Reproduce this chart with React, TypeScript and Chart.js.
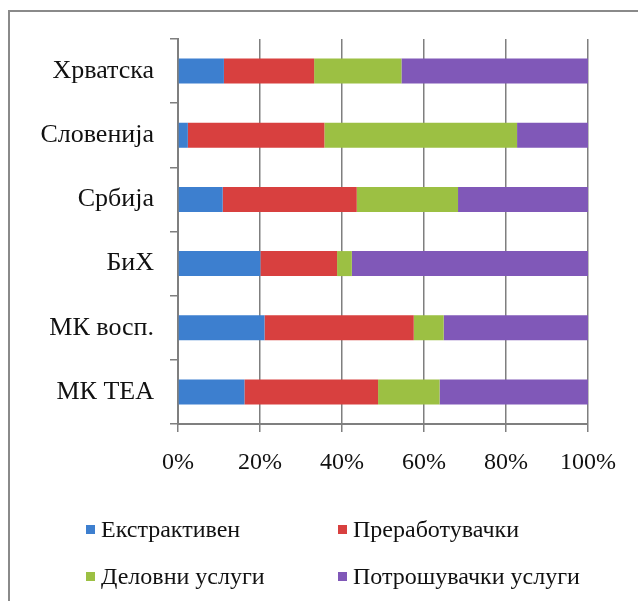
import React, { useEffect, useRef } from "react";
import { Chart, registerables } from "chart.js";

Chart.register(...registerables);

const categories = ["Хрватска", "Словенија", "Србија", "БиХ", "МК восп.", "МК ТЕА"];
const extractive = [11.2, 2.4, 10.9, 20.1, 21.1, 16.2];
const manufacturing = [22.0, 33.3, 32.7, 18.7, 36.4, 32.6];
const business = [21.3, 47.0, 24.7, 3.6, 7.3, 15.0];
const consumer = [45.5, 17.3, 31.7, 57.6, 35.2, 36.2];
const seriesNames = ["Екстрактивен", "Преработувачки", "Деловни услуги", "Потрошувачки услуги"];
const seriesColors = ["#3d7fcf", "#d8403f", "#9cc043", "#8058b8"];
const xTicks = [0, 20, 40, 60, 80, 100];

const FONT = "'Liberation Serif', 'Times New Roman', serif";

const legendPlugin = {
  id: "customLegend",
  afterDraw(chart: any) {
    const ctx = chart.ctx;
    ctx.save();
    ctx.font = `24px ${FONT}`;
    ctx.textBaseline = "middle";
    ctx.textAlign = "left";
    const cols = [86, 338];
    const rows = [530, 577];
    chart.data.datasets.forEach((ds: any, i: number) => {
      const x = cols[i % 2];
      const y = rows[Math.floor(i / 2)];
      ctx.fillStyle = ds.backgroundColor;
      ctx.fillRect(x, y - 5, 9, 9);
      ctx.fillStyle = "#111";
      ctx.fillText(ds.label, x + 15, y + 1);
    });
    ctx.restore();
  },
};

export default function App() {
  const ref = useRef<HTMLCanvasElement | null>(null);
  useEffect(() => {
    if (!ref.current) return;
    const values = [extractive, manufacturing, business, consumer];
    const chart = new Chart(ref.current, {
      type: "bar",
      data: {
        labels: categories,
        datasets: values.map((v, i) => ({
          label: seriesNames[i],
          data: v,
          backgroundColor: seriesColors[i],
          borderWidth: 0,
          barPercentage: 0.39,
          categoryPercentage: 1,
        })),
      },
      options: {
        indexAxis: "y",
        animation: false,
        responsive: false,
        maintainAspectRatio: false,
        layout: { padding: { left: 0, top: 39, right: 50, bottom: 77 } },
        plugins: { legend: { display: false }, tooltip: { enabled: false } },
        scales: {
          x: {
            stacked: true,
            min: 0,
            max: 100,
            afterBuildTicks: (s: any) => {
              s.ticks = xTicks.map((v) => ({ value: v }));
            },
            afterFit: (s: any) => {
              s.height = 100;
            },
            ticks: {
              callback: (v: any) => v + "%",
              font: { family: FONT, size: 24 },
              color: "#111",
              padding: 16,
              maxRotation: 0,
            },
            grid: {
              color: "#7f7f7f",
              lineWidth: 1.5,
              tickLength: 8,
              drawTicks: true,
            },
            border: { color: "#7f7f7f", width: 2 },
          },
          y: {
            stacked: true,
            afterFit: (s: any) => {
              s.width = 178;
            },
            ticks: {
              font: { family: FONT, size: 26 },
              color: "#111",
              padding: 16,
            },
            grid: {
              offset: true,
              drawOnChartArea: false,
              drawTicks: true,
              tickLength: 8,
              color: "#7f7f7f",
              lineWidth: 1.5,
            },
            border: { color: "#7f7f7f", width: 2 },
          },
        },
      },
      plugins: [legendPlugin],
    });
    return () => chart.destroy();
  }, []);

  return (
    <div style={{ position: "fixed", left: 0, top: 0, width: 638, height: 601, background: "#fff" }}>
      <div
        style={{
          position: "absolute",
          left: 8,
          top: 10,
          width: 640,
          height: 600,
          borderLeft: "2px solid #8a8a8a",
          borderTop: "2px solid #8a8a8a",
        }}
      />
      <canvas ref={ref} width={638} height={601} style={{ position: "absolute", left: 0, top: 0 }} />
    </div>
  );
}
